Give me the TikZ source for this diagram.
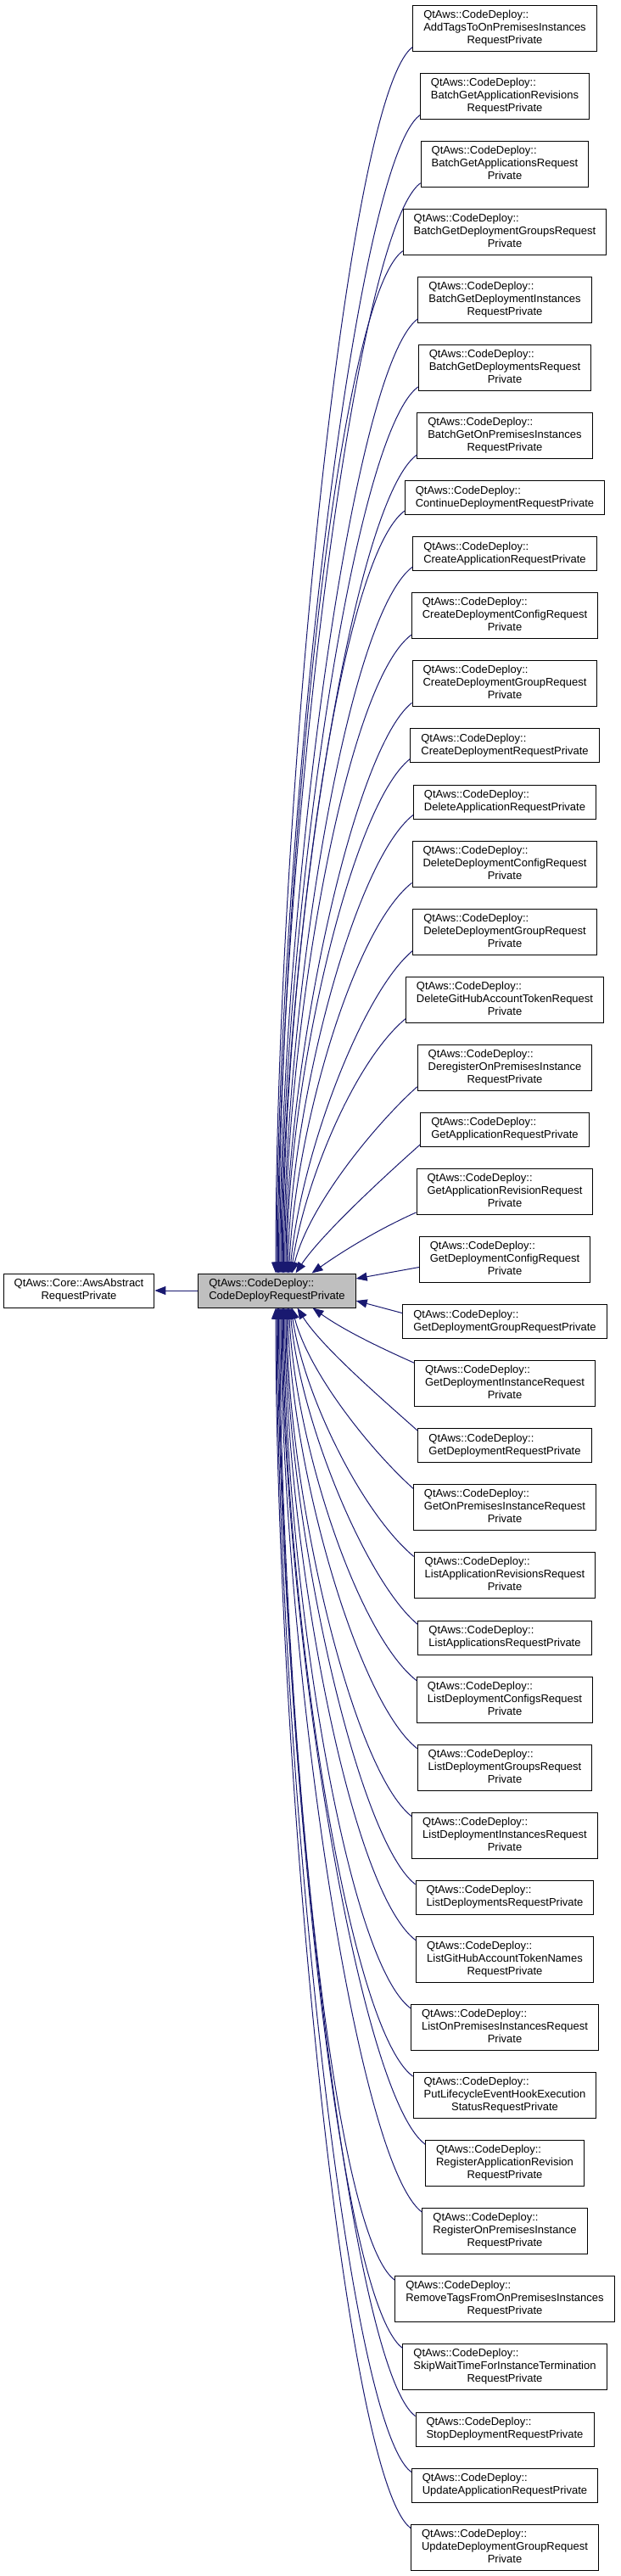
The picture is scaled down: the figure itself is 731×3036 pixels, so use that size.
\documentclass[tikz,border=0pt]{standalone}
\usepackage{fontspec}
\setmainfont{Liberation Sans}
\usetikzlibrary{arrows.meta}

\definecolor{edgeblue}{RGB}{25,25,112}
\newcommand{\ns}{QtAws::CodeDeploy::}
\newcommand{\lblc}[2]{\begin{tabular}{@{}l@{}}\ns\\#1\\\multicolumn{1}{@{}c@{}}{#2}\end{tabular}}
\newcommand{\lblb}[1]{\begin{tabular}{@{}l@{}}\ns\\#1\end{tabular}}

\begin{document}
\begin{tikzpicture}[x=1pt,y=-1pt,line width=1pt,
  klass/.style={draw=black,fill=white,inner xsep=12.5pt,inner ysep=3pt,minimum height=54pt,font=\fontsize{13}{15}\selectfont},
  short/.style={minimum height=40pt},
  cur/.style={fill=black!25},
  inh/.style={<-,draw=edgeblue,line width=1pt,>={Triangle[length=13pt,width=10pt,fill=edgeblue]}}]
  \useasboundingbox (0,0) rectangle (731,3036);
  % base classes
  \node[klass,short] (awsreq) at (93,1521)
    {\begin{tabular}{@{}l@{}}QtAws::Core::AwsAbstract\\\multicolumn{1}{@{}c@{}}{RequestPrivate}\end{tabular}};
  \node[klass,short,cur] (cdreq) at (326.5,1521)
    {\begin{tabular}{@{}l@{}}\ns\\CodeDeployRequestPrivate\end{tabular}};
  \draw[inh] (awsreq.east) -- (cdreq.west);
  % derived classes
  \node[klass] (addtags) at (595,33) {\lblc{AddTagsToOnPremisesInstances}{RequestPrivate}};
  \node[klass] (bgrev) at (595,113.1) {\lblc{BatchGetApplicationRevisions}{RequestPrivate}};
  \node[klass] (bgapps) at (595,193.2) {\lblc{BatchGetApplicationsRequest}{Private}};
  \node[klass] (bggrps) at (595,273.2) {\lblc{BatchGetDeploymentGroupsRequest}{Private}};
  \node[klass] (bginst) at (595,353.3) {\lblc{BatchGetDeploymentInstances}{RequestPrivate}};
  \node[klass] (bgdeps) at (595,433.4) {\lblc{BatchGetDeploymentsRequest}{Private}};
  \node[klass] (bgonprem) at (595,513.5) {\lblc{BatchGetOnPremisesInstances}{RequestPrivate}};
  \node[klass,short] (contdep) at (595,586.6) {\lblb{ContinueDeploymentRequestPrivate}};
  \node[klass,short] (createapp) at (595,652.6) {\lblb{CreateApplicationRequestPrivate}};
  \node[klass] (createcfg) at (595,725.7) {\lblc{CreateDeploymentConfigRequest}{Private}};
  \node[klass] (creategrp) at (595,805.8) {\lblc{CreateDeploymentGroupRequest}{Private}};
  \node[klass,short] (createdep) at (595,878.9) {\lblb{CreateDeploymentRequestPrivate}};
  \node[klass,short] (delapp) at (595,945) {\lblb{DeleteApplicationRequestPrivate}};
  \node[klass] (delcfg) at (595,1018) {\lblc{DeleteDeploymentConfigRequest}{Private}};
  \node[klass] (delgrp) at (595,1098.1) {\lblc{DeleteDeploymentGroupRequest}{Private}};
  \node[klass] (delgh) at (595,1178.2) {\lblc{DeleteGitHubAccountTokenRequest}{Private}};
  \node[klass] (dereg) at (595,1258.3) {\lblc{DeregisterOnPremisesInstance}{RequestPrivate}};
  \node[klass,short] (getapp) at (595,1331.4) {\lblb{GetApplicationRequestPrivate}};
  \node[klass] (getrev) at (595,1404.4) {\lblc{GetApplicationRevisionRequest}{Private}};
  \node[klass] (getcfg) at (595,1484.5) {\lblc{GetDeploymentConfigRequest}{Private}};
  \node[klass,short] (getgrp) at (595,1557.6) {\lblb{GetDeploymentGroupRequestPrivate}};
  \node[klass] (getinst) at (595,1630.7) {\lblc{GetDeploymentInstanceRequest}{Private}};
  \node[klass,short] (getdep) at (595,1703.8) {\lblb{GetDeploymentRequestPrivate}};
  \node[klass] (getonprem) at (595,1776.8) {\lblc{GetOnPremisesInstanceRequest}{Private}};
  \node[klass] (listrev) at (595,1856.9) {\lblc{ListApplicationRevisionsRequest}{Private}};
  \node[klass,short] (listapps) at (595,1930) {\lblb{ListApplicationsRequestPrivate}};
  \node[klass] (listcfgs) at (595,2003.1) {\lblc{ListDeploymentConfigsRequest}{Private}};
  \node[klass] (listgrps) at (595,2083.2) {\lblc{ListDeploymentGroupsRequest}{Private}};
  \node[klass] (listinst) at (595,2163.2) {\lblc{ListDeploymentInstancesRequest}{Private}};
  \node[klass,short] (listdeps) at (595,2236.3) {\lblb{ListDeploymentsRequestPrivate}};
  \node[klass] (listgh) at (595,2309.4) {\lblc{ListGitHubAccountTokenNames}{RequestPrivate}};
  \node[klass] (listonprem) at (595,2389.5) {\lblc{ListOnPremisesInstancesRequest}{Private}};
  \node[klass] (putlc) at (595,2469.6) {\lblc{PutLifecycleEventHookExecution}{StatusRequestPrivate}};
  \node[klass] (regrev) at (595,2549.6) {\lblc{RegisterApplicationRevision}{RequestPrivate}};
  \node[klass] (regonprem) at (595,2629.7) {\lblc{RegisterOnPremisesInstance}{RequestPrivate}};
  \node[klass] (rmtags) at (595,2709.8) {\lblc{RemoveTagsFromOnPremisesInstances}{RequestPrivate}};
  \node[klass] (skipwait) at (595,2789.9) {\lblc{SkipWaitTimeForInstanceTermination}{RequestPrivate}};
  \node[klass,short] (stopdep) at (595,2863) {\lblb{StopDeploymentRequestPrivate}};
  \node[klass,short] (updapp) at (595,2929) {\lblb{UpdateApplicationRequestPrivate}};
  \node[klass] (updgrp) at (595,3002.1) {\lblc{UpdateDeploymentGroupRequest}{Private}};
  % inheritance edges, upper half
  \draw[inh] ([xshift=-1.5pt]cdreq.north) .. controls +(0,-520) and +(-80,60) .. ([yshift=5pt]addtags.south west);
  \draw[inh] ([xshift=-0.3pt]cdreq.north) .. controls +(0,-492) and +(-80,60) .. ([yshift=5pt]bgrev.south west);
  \draw[inh] ([xshift=0.9pt]cdreq.north) .. controls +(0,-463) and +(-80,60) .. ([yshift=5pt]bgapps.south west);
  \draw[inh] ([xshift=2.1pt]cdreq.north) .. controls +(0,-434) and +(-80,60) .. ([yshift=5pt]bggrps.south west);
  \draw[inh] ([xshift=3.3pt]cdreq.north) .. controls +(0,-405) and +(-80,60) .. ([yshift=5pt]bginst.south west);
  \draw[inh] ([xshift=4.5pt]cdreq.north) .. controls +(0,-377) and +(-80,60) .. ([yshift=5pt]bgdeps.south west);
  \draw[inh] ([xshift=5.7pt]cdreq.north) .. controls +(0,-348) and +(-80,60) .. ([yshift=5pt]bgonprem.south west);
  \draw[inh] ([xshift=6.9pt]cdreq.north) .. controls +(0,-324) and +(-80,60) .. ([yshift=5pt]contdep.south west);
  \draw[inh] ([xshift=8.1pt]cdreq.north) .. controls +(0,-300) and +(-80,60) .. ([yshift=5pt]createapp.south west);
  \draw[inh] ([xshift=9.3pt]cdreq.north) .. controls +(0,-271) and +(-80,60) .. ([yshift=5pt]createcfg.south west);
  \draw[inh] ([xshift=10.5pt]cdreq.north) .. controls +(0,-242) and +(-70,55) .. ([yshift=5pt]creategrp.south west);
  \draw[inh] ([xshift=11.7pt]cdreq.north) .. controls +(0,-219) and +(-70,55) .. ([yshift=5pt]createdep.south west);
  \draw[inh] ([xshift=12.9pt]cdreq.north) .. controls +(3,-195) and +(-70,55) .. ([yshift=5pt]delapp.south west);
  \draw[inh] ([xshift=14.1pt]cdreq.north) .. controls +(7,-166) and +(-70,55) .. ([yshift=5pt]delcfg.south west);
  \draw[inh] ([xshift=15.3pt]cdreq.north) .. controls +(12,-137) and +(-60,50) .. ([yshift=5pt]delgrp.south west);
  \draw[inh] ([xshift=16.5pt]cdreq.north) .. controls +(16,-108) and +(-60,50) .. ([yshift=5pt]delgh.south west);
  \draw[inh] ([xshift=17.7pt]cdreq.north) .. controls +(20,-80) and +(-50,45) .. ([yshift=5pt]dereg.south west);
  \draw[inh] ([xshift=22pt]cdreq.north) .. controls +(30,-45) and +(-45,40) .. ([yshift=3pt]getapp.south west);
  \draw[inh] ([xshift=41pt]cdreq.north) .. controls +(35,-25) and +(-45,20) .. ([yshift=3pt]getrev.south west);
  % edges on the right side
  \draw[inh] ([yshift=14pt]cdreq.east) -- ([yshift=-9pt]getcfg.west);
  \draw[inh] ([yshift=-12pt]cdreq.east) -- ([yshift=10pt]getgrp.west);
  % inheritance edges, lower half
  \draw[inh] ([xshift=42pt]cdreq.south) .. controls +(35,25) and +(-45,-20) .. ([yshift=-3pt]getinst.north west);
  \draw[inh] ([xshift=24pt]cdreq.south) .. controls +(28,45) and +(-45,-40) .. ([yshift=-3pt]getdep.north west);
  \draw[inh] ([xshift=17.7pt]cdreq.south) .. controls +(20,77) and +(-50,-45) .. ([yshift=-5pt]getonprem.north west);
  \draw[inh] ([xshift=16.5pt]cdreq.south) .. controls +(16,106) and +(-60,-50) .. ([yshift=-5pt]listrev.north west);
  \draw[inh] ([xshift=15.3pt]cdreq.south) .. controls +(12,135) and +(-60,-50) .. ([yshift=-5pt]listapps.north west);
  \draw[inh] ([xshift=14.1pt]cdreq.south) .. controls +(7,158) and +(-70,-55) .. ([yshift=-5pt]listcfgs.north west);
  \draw[inh] ([xshift=12.9pt]cdreq.south) .. controls +(3,187) and +(-70,-55) .. ([yshift=-5pt]listgrps.north west);
  \draw[inh] ([xshift=11.7pt]cdreq.south) .. controls +(0,216) and +(-70,-55) .. ([yshift=-5pt]listinst.north west);
  \draw[inh] ([xshift=10.5pt]cdreq.south) .. controls +(0,245) and +(-70,-55) .. ([yshift=-5pt]listdeps.north west);
  \draw[inh] ([xshift=9.3pt]cdreq.south) .. controls +(0,269) and +(-80,-60) .. ([yshift=-5pt]listgh.north west);
  \draw[inh] ([xshift=8.1pt]cdreq.south) .. controls +(0,297) and +(-80,-60) .. ([yshift=-5pt]listonprem.north west);
  \draw[inh] ([xshift=6.9pt]cdreq.south) .. controls +(0,326) and +(-80,-60) .. ([yshift=-5pt]putlc.north west);
  \draw[inh] ([xshift=5.7pt]cdreq.south) .. controls +(0,355) and +(-80,-60) .. ([yshift=-5pt]regrev.north west);
  \draw[inh] ([xshift=4.5pt]cdreq.south) .. controls +(0,384) and +(-80,-60) .. ([yshift=-5pt]regonprem.north west);
  \draw[inh] ([xshift=3.3pt]cdreq.south) .. controls +(0,413) and +(-80,-60) .. ([yshift=-5pt]rmtags.north west);
  \draw[inh] ([xshift=2.1pt]cdreq.south) .. controls +(0,442) and +(-80,-60) .. ([yshift=-5pt]skipwait.north west);
  \draw[inh] ([xshift=0.9pt]cdreq.south) .. controls +(0,471) and +(-80,-60) .. ([yshift=-5pt]stopdep.north west);
  \draw[inh] ([xshift=-0.3pt]cdreq.south) .. controls +(0,494) and +(-80,-60) .. ([yshift=-5pt]updapp.north west);
  \draw[inh] ([xshift=-1.5pt]cdreq.south) .. controls +(0,518) and +(-80,-60) .. ([yshift=-5pt]updgrp.north west);
\end{tikzpicture}
\end{document}
